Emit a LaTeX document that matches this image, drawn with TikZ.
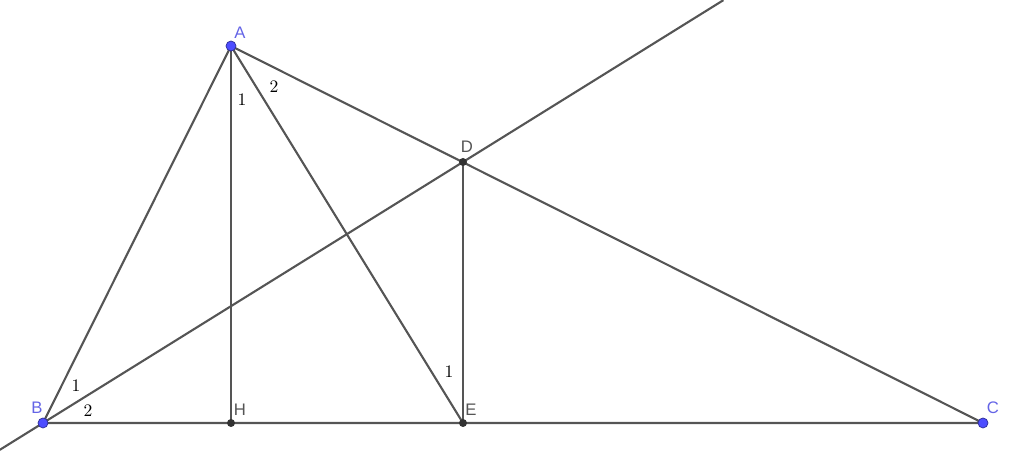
\documentclass[tikz,border=0pt]{standalone}
\usepackage{fontspec}
\setsansfont{Liberation Sans}
\usetikzlibrary{calc}
\definecolor{segcol}{RGB}{85,85,85}
\definecolor{freept}{RGB}{77,77,255}
\definecolor{freelbl}{RGB}{100,100,230}
\definecolor{deppt}{RGB}{50,50,50}
\tikzset{
        seg/.style={segcol, line width=1.2pt}, % the lines of the figure
        free/.style={circle, fill=freept, draw=freept!60!black, inner sep=0pt, minimum size=0.2cm}, % free points
        dep/.style={circle, fill=deppt, inner sep=0pt, minimum size=0.16cm}, % constructed points
        lblA/.style={freelbl, font=\sffamily\fontsize{9.5}{11}\selectfont},
        lblB/.style={segcol, font=\sffamily\fontsize{9.5}{11}\selectfont},
        ang/.style={black, font=\fontsize{10}{12}\selectfont},
}
\begin{document}
\begin{tikzpicture}
\useasboundingbox (0,0) rectangle (20.48,9.28);
\coordinate (A) at (4.62,8.36);
\coordinate (B) at (0.86,0.82);
\coordinate (C) at (19.66,0.82);
\coordinate (D) at (9.26,6.04);
\coordinate (E) at (9.26,0.82);
\coordinate (H) at (4.62,0.82);
\coordinate (bdlo) at ($(B)!-0.103!(D)$);
\coordinate (bdhi) at ($(B)!1.62!(D)$);

% the bisector line through B and D
\draw[seg] (bdlo) -- (bdhi);
% triangle and the other segments
\draw[seg] (A) -- (B) -- (C) -- cycle;
\draw[seg] (A) -- (H);
\draw[seg] (A) -- (E);
\draw[seg] (D) -- (E);

\foreach \p in {H,E,D}
  \node[dep] (pt\p) at (\p) {};
\foreach \p in {A,B,C}
  \node[free] (pt\p) at (\p) {};

\node[lblA] (nA) at (4.80,8.62) {A};
\node[lblA] (nB) at (0.74,1.12) {B};
\node[lblA] (nC) at (19.86,1.12) {C};
\node[lblB] (nD) at (9.34,6.34) {D};
\node[lblB] (nH) at (4.80,1.08) {H};
\node[lblB] (nE) at (9.42,1.08) {E};

\node[ang] (a1) at (4.84,7.28) {1};
\node[ang] (a2) at (5.48,7.54) {2};
\node[ang] (b1) at (1.52,1.56) {1};
\node[ang] (b2) at (1.76,1.06) {2};
\node[ang] (e1) at (8.98,1.84) {1};
\end{tikzpicture}
\end{document}
